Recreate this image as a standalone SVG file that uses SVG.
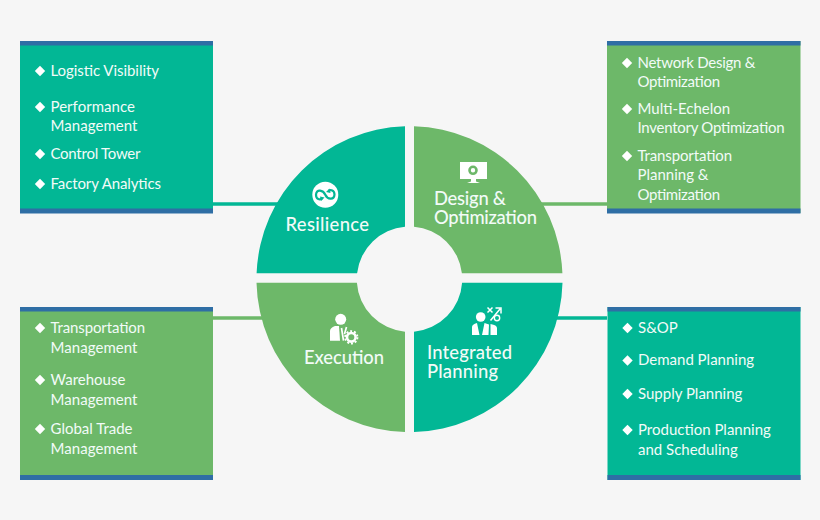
<svg xmlns="http://www.w3.org/2000/svg" width="820" height="520" viewBox="0 0 820 520">
<style>
.teal{fill:#02b795}.green{fill:#6db869}.blue{fill:#2f6ea5}
.li{font:400 15px Lato,"Open Sans",sans-serif;fill:#f2fbf8}
.hd{font:500 18.4px Lato,"Open Sans",sans-serif;fill:#f2fbf8}
.w{fill:#fff}
.cn{stroke-width:3.6;fill:none}
</style>
<defs>
<path id="d" d="M0-5.200 5.200 0 0 5.200-5.200 0Z" fill="#fff"/>
<g id="gear"><circle r="4.300" fill="none" stroke="#fff" stroke-width="2.600"/><circle r="6.200" fill="none" stroke="#fff" stroke-width="1.800" stroke-dasharray="2 1.900"/></g>
</defs>
<rect width="820" height="520" fill="#f6f6f6"/>
<g id="connectors">
<path class="cn" stroke="#02b795" d="M213 204H280"/>
<path class="cn" stroke="#6db869" d="M541 204H607"/>
<path class="cn" stroke="#6db869" d="M213 318H265"/>
<path class="cn" stroke="#02b795" d="M555 318H607"/>
</g>
<g id="box-resilience">
<rect class="teal" x="20" y="41" width="193" height="172"/>
<rect class="blue" x="20" y="41" width="193" height="4.500"/><rect class="blue" x="20" y="208.500" width="193" height="5"/>
<use href="#d" x="40" y="71"/><use href="#d" x="40" y="107"/><use href="#d" x="40" y="154"/><use href="#d" x="40" y="184"/>
<text class="li" x="50.500" y="76" textLength="108.500">Logistic Visibility</text>
<text class="li" x="50.500" y="112" textLength="84.500">Performance</text><text class="li" x="50.500" y="131" textLength="87">Management</text>
<text class="li" x="50.500" y="159" textLength="90">Control Tower</text>
<text class="li" x="50.500" y="189" textLength="110.500">Factory Analytics</text>
</g>
<g id="box-design">
<rect class="green" x="607" y="41" width="193.500" height="172"/>
<rect class="blue" x="607" y="41" width="193.500" height="4.500"/><rect class="blue" x="607" y="208.500" width="193.500" height="5"/>
<use href="#d" x="627" y="63"/><use href="#d" x="627" y="109"/><use href="#d" x="627" y="156"/>
<text class="li" x="637.500" y="68" textLength="118">Network Design &amp;</text><text class="li" x="637.500" y="87" textLength="82.500">Optimization</text>
<text class="li" x="637.500" y="114">Multi-Echelon</text><text class="li" x="637.500" y="133" textLength="147">Inventory Optimization</text>
<text class="li" x="637.500" y="161" textLength="94.500">Transportation</text><text class="li" x="637.500" y="180">Planning &amp;</text><text class="li" x="637.500" y="200" textLength="82.500">Optimization</text>
</g>
<g id="box-execution">
<rect class="green" x="20" y="307" width="193" height="173"/>
<rect class="blue" x="20" y="307" width="193" height="4.500"/><rect class="blue" x="20" y="475" width="193" height="5"/>
<use href="#d" x="40" y="328"/><use href="#d" x="40" y="380"/><use href="#d" x="40" y="429"/>
<text class="li" x="50.500" y="333" textLength="94.500">Transportation</text><text class="li" x="50.500" y="353" textLength="87">Management</text>
<text class="li" x="50.500" y="385">Warehouse</text><text class="li" x="50.500" y="405" textLength="87">Management</text>
<text class="li" x="50.500" y="434">Global Trade</text><text class="li" x="50.500" y="454" textLength="87">Management</text>
</g>
<g id="box-planning">
<rect class="teal" x="607.500" y="307" width="193" height="173"/>
<rect class="blue" x="607.500" y="307" width="193" height="4.500"/><rect class="blue" x="607.500" y="475" width="193" height="5"/>
<use href="#d" x="627.500" y="328"/><use href="#d" x="627.500" y="360.500"/><use href="#d" x="627.500" y="394"/><use href="#d" x="627.500" y="430"/>
<text class="li" x="638" y="333">S&amp;OP</text>
<text class="li" x="638" y="365">Demand Planning</text>
<text class="li" x="638" y="399">Supply Planning</text>
<text class="li" x="638" y="435">Production Planning</text><text class="li" x="638" y="455">and Scheduling</text>
</g>
<g id="resilience">
<path class="teal" d="M405 126.300A153 153 0 0 0 256.600 273.300H357.100A52.700 52.700 0 0 1 405 226.700Z"/>
<circle class="w" cx="325.300" cy="194.700" r="13"/>
<path d="M325.300 194.700C323 190 316.500 188.500 316 194.700C316 199.500 320 200 322 198.500M325.300 194.700C327.500 199.500 334 200.500 334.500 194.700C334.500 190 330.500 189.500 328.500 191" fill="none" stroke="#02b795" stroke-width="2.200"/>
<path class="teal" d="M320 196.500 324.500 197.500 321 201ZM330.500 193 326 192 329.500 188.500Z"/>
<text class="hd" x="285.500" y="231" textLength="83.500">Resilience</text>
</g>
<g id="design">
<path class="green" d="M414 126.300A153 153 0 0 1 562.400 273.300H461.900A52.700 52.700 0 0 0 414 226.700Z"/>
<path class="w" d="M460 162H487V179H476V181.500L480 183H467L471 181.500V179H460Z"/>
<circle cx="473" cy="170.300" r="3.500" fill="none" stroke="#6db869" stroke-width="2.600"/>
<text class="hd" x="434" y="205" textLength="72">Design &amp;</text>
<text class="hd" x="434" y="224" textLength="103">Optimization</text>
</g>
<g id="execution">
<path class="green" d="M405 432.100A153 153 0 0 1 256.500 282.700H356.900A52.700 52.700 0 0 0 405 331.700Z"/>
<circle class="w" cx="340.700" cy="319.300" r="5.500"/>
<path class="w" d="M335 326H339L340 340.700H330V331Q330 328 335 326Z"/>
<path d="M341.500 328 343.500 340.700M346.500 327 344.500 334" stroke="#fff" stroke-width="1.700" fill="none"/>
<use href="#gear" x="351.300" y="337.300"/>
<text class="hd" x="304" y="364" textLength="80">Execution</text>
</g>
<g id="planning">
<path class="teal" d="M414 432.100A153 153 0 0 0 562.500 282.700H462.100A52.700 52.700 0 0 1 414 331.700Z"/>
<circle class="w" cx="480.700" cy="317" r="4.800"/>
<path class="w" d="M472 335V327Q472 324.500 477 323L479.500 335ZM482 335 484.500 323 489 324.500 488.500 335ZM490.500 324Q497 325 497 328V335H490.500Z"/>
<path d="M490.500 320.500 500 309M495.500 308H501V313.500" stroke="#fff" stroke-width="1.500" fill="none"/>
<circle cx="497" cy="318" r="2.700" fill="none" stroke="#fff" stroke-width="1.400"/>
<path d="M487.500 307.500 492.500 312.500M492.500 307.500 487.500 312.500" stroke="#fff" stroke-width="1.500"/>
<text class="hd" x="427" y="358.500" textLength="85">Integrated</text>
<text class="hd" x="427" y="377.500" textLength="71">Planning</text>
</g>
</svg>
